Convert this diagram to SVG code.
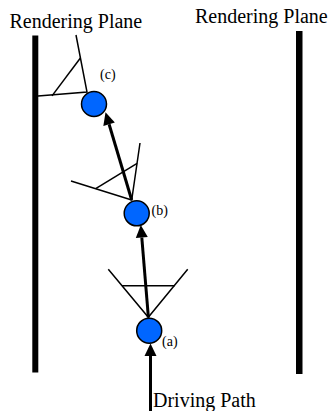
<svg xmlns="http://www.w3.org/2000/svg" width="331" height="411" viewBox="0 0 331 411">
  <defs>
    <marker id="head" markerUnits="userSpaceOnUse" markerWidth="13" markerHeight="12" viewBox="0 -6 13 12" refX="0" refY="0" orient="auto" overflow="visible">
      <path d="M0,-6 L12.5,0 L0,6 Z" fill="#000"/>
    </marker>
  </defs>
  <rect width="331" height="411" fill="#fff"/>

  <g id="plane-left">
    <rect fill="#000" x="32.3" y="35.5" width="6" height="337"/>
    <text font-family="'Liberation Serif', serif" font-size="20" fill="#000" x="9.5" y="27.7">Rendering Plane</text>
  </g>
  <g id="plane-right">
    <rect fill="#000" x="296" y="31" width="6.5" height="343"/>
    <text font-family="'Liberation Serif', serif" font-size="20" fill="#000" x="195" y="22.5">Rendering Plane</text>
  </g>

  <g id="views" fill="none" stroke="#000" stroke-width="1.5">
    <g id="view-c">
      <polyline points="76,35 87,92 38,96"/>
      <line x1="52" y1="95.9" x2="80.4" y2="58"/>
    </g>
    <g id="view-b">
      <polyline points="140,143 131.7,200 71,181"/>
      <line x1="95.7" y1="188.7" x2="137.1" y2="163.3"/>
    </g>
    <g id="view-a">
      <polyline points="108.3,269.3 148.3,317.3 187.7,269.3"/>
      <line x1="122" y1="285.7" x2="174.6" y2="285.7"/>
    </g>
  </g>

  <g id="connectors" fill="none" stroke="#000" stroke-width="3">
    <line x1="150.5" y1="411" x2="150.5" y2="356" marker-end="url(#head)"/>
    <line x1="148.4" y1="317.5" x2="141.8" y2="237.5" marker-end="url(#head)"/>
    <line x1="131.7" y1="200" x2="109.1" y2="124.3" marker-end="url(#head)"/>
  </g>

  <g id="node-c">
    <circle fill="#0066ff" stroke="#000" stroke-width="1.5" cx="94" cy="104" r="12.5"/>
    <text font-family="'Liberation Serif', serif" font-size="14" fill="#000" x="100" y="79">(c)</text>
  </g>
  <g id="node-b">
    <circle fill="#0066ff" stroke="#000" stroke-width="1.5" cx="136.7" cy="213.3" r="12.5"/>
    <text font-family="'Liberation Serif', serif" font-size="14" fill="#000" x="151.5" y="214.5">(b)</text>
  </g>
  <g id="node-a">
    <circle fill="#0066ff" stroke="#000" stroke-width="1.5" cx="149.2" cy="330.7" r="12.5"/>
    <text font-family="'Liberation Serif', serif" font-size="14" fill="#000" x="162" y="345.5">(a)</text>
  </g>

  <g id="driving-path">
    <text font-family="'Liberation Serif', serif" font-size="20" fill="#000" x="153" y="406.5">Driving Path</text>
  </g>
</svg>
